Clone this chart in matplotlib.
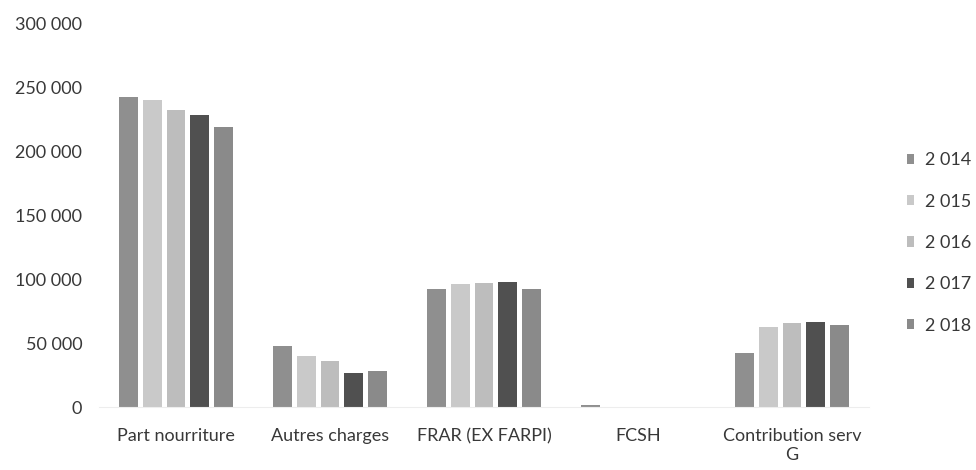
import matplotlib
matplotlib.use("Agg")
import matplotlib.pyplot as plt
import numpy as np

plt.rcParams['font.family'] = ['Lato', 'DejaVu Sans']

categories = ["Part nourriture", "Autres charges", "FRAR (EX FARPI)", "FCSH", "Contribution serv\nG"]
years = ["2 014", "2 015", "2 016", "2 017", "2 018"]

v2014 = [242500, 48000, 92500, 1500, 42600]
v2015 = [240600, 40000, 96200, 0, 63000]
v2016 = [232300, 36000, 97200, 0, 66100]
v2017 = [228400, 26400, 98200, 0, 66600]
v2018 = [219500, 28200, 92700, 0, 64300]
series = [v2014, v2015, v2016, v2017, v2018]

colors = ["#8f8f8f", "#c9c9c9", "#bdbdbd", "#505050", "#8a8a8a"]
txt = "#383838"

fig = plt.figure(figsize=(9.76, 4.70), dpi=100)
ax = fig.add_axes([99/976, 63/470, 770/976, 383/470])

x = np.arange(len(categories))
pitch = 0.153
w = 0.123
for i, vals in enumerate(series):
    ax.bar(x + (i - 2) * pitch, vals, width=w, color=colors[i], label=years[i])

ax.set_xlim(-0.5, 4.5)
ax.set_ylim(0, 300000)
ax.set_yticks(np.arange(0, 300001, 50000))
ax.set_yticklabels([f"{v:,}".replace(",", " ") for v in range(0, 300001, 50000)])
ax.set_xticks(x)
ax.set_xticklabels(categories, va="top", linespacing=1.25)

for s in ["top", "right", "left"]:
    ax.spines[s].set_visible(False)
ax.spines["bottom"].set_color("#ededed")
ax.tick_params(axis="both", length=0, colors=txt, labelsize=13)
ax.tick_params(axis="x", pad=15)
ax.tick_params(axis="y", pad=12)

# legend centre row sits at y=243 px from the top
leg = ax.legend(loc="center left", bbox_to_anchor=(907/976, (470 - 243)/470), bbox_transform=fig.transFigure,
                frameon=False, fontsize=13, handlelength=0.4, handleheight=0.5,
                handletextpad=0.6, labelspacing=1.4, borderaxespad=0, borderpad=0)
for t in leg.get_texts():
    t.set_color(txt)

fig.savefig("out.png", dpi=100)
